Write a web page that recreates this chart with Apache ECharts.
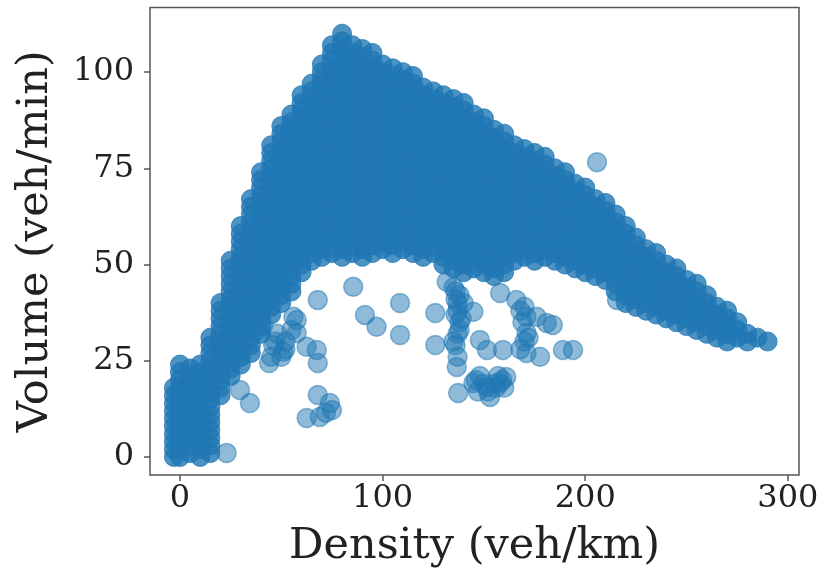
<!DOCTYPE html>
<html><head><meta charset="utf-8">
<script src="https://cdn.jsdelivr.net/npm/echarts@6/dist/echarts.min.js"></script>
<style>html,body{margin:0;padding:0;background:#fff}#c{width:824px;height:573px}</style>
</head><body><div id="c"></div>
<script>
const xTicks = [0, 100, 200, 300];
const yTicks = [0, 25, 50, 75, 100];
const xTitle = 'Density (veh/km)';
const yTitle = 'Volume (veh/min)';

// dense cloud: one density column per entry, with the volumes observed in that column
const blobDensity = [-3,0,5,10,15,20,25,30,35,40,45,50,55,60,65,70,75,80,85,90,95,100,105,110,115,120,125,130,135,140,145,150,155,160,165,170,175,180,185,190,195,200,205,210,215,220,225,230,235,240,245,250,255,260,265,270,275,280,285,290];
const blobVolume = [
 [0,2,4,6,8,10,12,14,16,18],
 [0,2,4,6,8,10,12,14,16,18,20,22,24],
 [1,3,5,7,9,11,13,15,17,19,21,23],
 [0,2,4,6,8,10,12,14,16,18,20,22,24],
 [1,3,5,7,9,11,13,15,17,19,21,23,25,27,29,31],
 [16,18,20,22,24,26,28,30,32,34,36,38,40],
 [21,23,25,27,29,31,33,35,37,39,41,43,45,47,49,51],
 [24,26,28,30,32,34,36,38,40,42,44,46,48,50,52,54,56,58,60],
 [27,29,31,33,35,37,39,41,43,45,47,49,51,53,55,57,59,61,63,65,67],
 [32,34,36,38,40,42,44,46,48,50,52,54,56,58,60,62,64,66,68,70,72,74],
 [37,39,41,43,45,47,49,51,53,55,57,59,61,63,65,67,69,71,73,75,77,79,81],
 [40,42,44,46,48,50,52,54,56,58,60,62,64,66,68,70,72,74,76,78,80,82,84,86],
 [43,45,47,49,51,53,55,57,59,61,63,65,67,69,71,73,75,77,79,81,83,85,87,89],
 [48,50,52,54,56,58,60,62,64,66,68,70,72,74,76,78,80,82,84,86,88,90,92,94],
 [51,53,55,57,59,61,63,65,67,69,71,73,75,77,79,81,83,85,87,89,91,93,95,97],
 [52,54,56,58,60,62,64,66,68,70,72,74,76,78,80,82,84,86,88,90,92,94,96,98,100,102],
 [53,55,57,59,61,63,65,67,69,71,73,75,77,79,81,83,85,87,89,91,93,95,97,99,101,103,105,107],
 [52,54,56,58,60,62,64,66,68,70,72,74,76,78,80,82,84,86,88,90,92,94,96,98,100,102,104,106,108,110],
 [53,55,57,59,61,63,65,67,69,71,73,75,77,79,81,83,85,87,89,91,93,95,97,99,101,103,105,107],
 [52,54,56,58,60,62,64,66,68,70,72,74,76,78,80,82,84,86,88,90,92,94,96,98,100,102,104,106],
 [53,55,57,59,61,63,65,67,69,71,73,75,77,79,81,83,85,87,89,91,93,95,97,99,101,103,105],
 [54,56,58,60,62,64,66,68,70,72,74,76,78,80,82,84,86,88,90,92,94,96,98,100,102],
 [53,55,57,59,61,63,65,67,69,71,73,75,77,79,81,83,85,87,89,91,93,95,97,99,101],
 [54,56,58,60,62,64,66,68,70,72,74,76,78,80,82,84,86,88,90,92,94,96,98,100],
 [53,55,57,59,61,63,65,67,69,71,73,75,77,79,81,83,85,87,89,91,93,95,97,99],
 [52,54,56,58,60,62,64,66,68,70,72,74,76,78,80,82,84,86,88,90,92,94,96],
 [53,55,57,59,61,63,65,67,69,71,73,75,77,79,81,83,85,87,89,91,93,95],
 [50,52,54,56,58,60,62,64,66,68,70,72,74,76,78,80,82,84,86,88,90,92,94],
 [49,51,53,55,57,59,61,63,65,67,69,71,73,75,77,79,81,83,85,87,89,91,93],
 [48,50,52,54,56,58,60,62,64,66,68,70,72,74,76,78,80,82,84,86,88,90,92],
 [49,51,53,55,57,59,61,63,65,67,69,71,73,75,77,79,81,83,85,87,89],
 [48,50,52,54,56,58,60,62,64,66,68,70,72,74,76,78,80,82,84,86,88],
 [47,49,51,53,55,57,59,61,63,65,67,69,71,73,75,77,79,81,83,85],
 [48,50,52,54,56,58,60,62,64,66,68,70,72,74,76,78,80,82,84],
 [51,53,55,57,59,61,63,65,67,69,71,73,75,77,79,81],
 [52,54,56,58,60,62,64,66,68,70,72,74,76,78,80],
 [51,53,55,57,59,61,63,65,67,69,71,73,75,77,79],
 [52,54,56,58,60,62,64,66,68,70,72,74,76,78],
 [51,53,55,57,59,61,63,65,67,69,71,73,75],
 [50,52,54,56,58,60,62,64,66,68,70,72,74],
 [49,51,53,55,57,59,61,63,65,67,69,71],
 [48,50,52,54,56,58,60,62,64,66,68,70],
 [47,49,51,53,55,57,59,61,63,65,67],
 [46,48,50,52,54,56,58,60,62,64,66],
 [43,45,47,49,51,53,55,57,59,61,63],
 [40,42,44,46,48,50,52,54,56,58,60],
 [39,41,43,45,47,49,51,53,55,57],
 [38,40,42,44,46,48,50,52,54],
 [37,39,41,43,45,47,49,51,53],
 [36,38,40,42,44,46,48,50],
 [35,37,39,41,43,45,47,49],
 [34,36,38,40,42,44,46],
 [33,35,37,39,41,43,45],
 [32,34,36,38,40,42],
 [31,33,35,37,39],
 [30,32,34,36,38],
 [31,33,35],
 [30,32],
 [31],
 [30]
];

// scattered points below the cloud
const outlierDensity = [23,34.5,29.6,41,44,51,52,57.6,57.6,62.5,67.5,68,68,85.5,91.3,97,108.6,108.6,126,126,68,74,75,62.5,69,72,56,38,47,45,
 48,52,55,50,46,
 131.6,135,136,137,138,137,136,137,136.6,137.3,140,139,144.8,148,151.5,
 136,137,136,138,135,138,
 144.8,148,151.5,153,155,158,161,160,147,150,156,159,146,152,157,
 159.4,158,166,168,171,171,171,170,176,177.7,181,184,189,194,205.8,215.7,
 169,170,172,168];
const outlierVolume = [1,14,17.4,34,24.4,27.3,28,35.6,32.2,28.6,27.8,24.4,40.8,44.2,36.9,33.8,40,31.7,37.4,29.1,16.1,14,12.2,10.1,10.4,11.5,36.4,33,30,26,
 32,30,33,26,29,
 45.5,44,41,38,35,32,29,26,23.4,16.6,40,36,37.7,30.4,27.8,
 43,40,37,33,30,42,
 19.2,21,18.2,15.6,19,19.2,20.8,18,17,19,18,20,20,17,21,
 27.8,42.6,40.8,38,36.4,32.2,27,30,36.4,26,34.8,34.3,27.8,27.8,76.6,40.8,
 35,39,31,28];

const blobData = [];
blobDensity.forEach((d, i) => blobVolume[i].forEach(v => blobData.push([d, v])));
const outData = outlierDensity.map((d, i) => [d, outlierVolume[i]]);

const font = 'DejaVu Serif';
const axisCol = '#555555';
const blobStyle = {color:'#1f77b4', opacity:0.8, borderColor:'#1f77b4', borderWidth:1};
const outStyle = {color:'#1f77b4', opacity:0.5, borderColor:'#1f77b4', borderWidth:1.5};

const chart = echarts.init(document.getElementById('c'), null, {renderer:'canvas'});
chart.setOption({
  animation:false,
  backgroundColor:'#ffffff',
  grid:{left:150, top:7.5, right:25, bottom:98, show:true, borderColor:axisCol, borderWidth:1.5, backgroundColor:'transparent'},
  xAxis:{type:'value', min:-14.8, max:305.5,
    name:xTitle, nameLocation:'middle', nameGap:50,
    nameTextStyle:{fontFamily:font, fontSize:43, color:'#222'},
    axisLine:{show:false, onZero:false}, splitLine:{show:false},
    axisTick:{show:true, inside:false, length:6, customValues:xTicks, lineStyle:{color:axisCol, width:1.5}},
    axisLabel:{customValues:xTicks, margin:8, fontFamily:font, fontSize:32, color:'#222'}},
  yAxis:{type:'value', min:-4.7, max:116.8,
    name:yTitle, nameLocation:'middle', nameGap:93, nameRotate:90,
    nameTextStyle:{fontFamily:font, fontSize:43, color:'#222'},
    axisLine:{show:false, onZero:false}, splitLine:{show:false},
    axisTick:{show:true, inside:false, length:6, customValues:yTicks, lineStyle:{color:axisCol, width:1.5}},
    axisLabel:{customValues:yTicks, margin:16, fontFamily:font, fontSize:32, color:'#222'}},
  series:[
    {type:'scatter', data:blobData, symbolSize:19, itemStyle:blobStyle, large:false, progressive:0, silent:true},
    {type:'scatter', data:outData, symbolSize:19, itemStyle:outStyle, large:false, progressive:0, silent:true}
  ]
});
</script>
</body></html>
